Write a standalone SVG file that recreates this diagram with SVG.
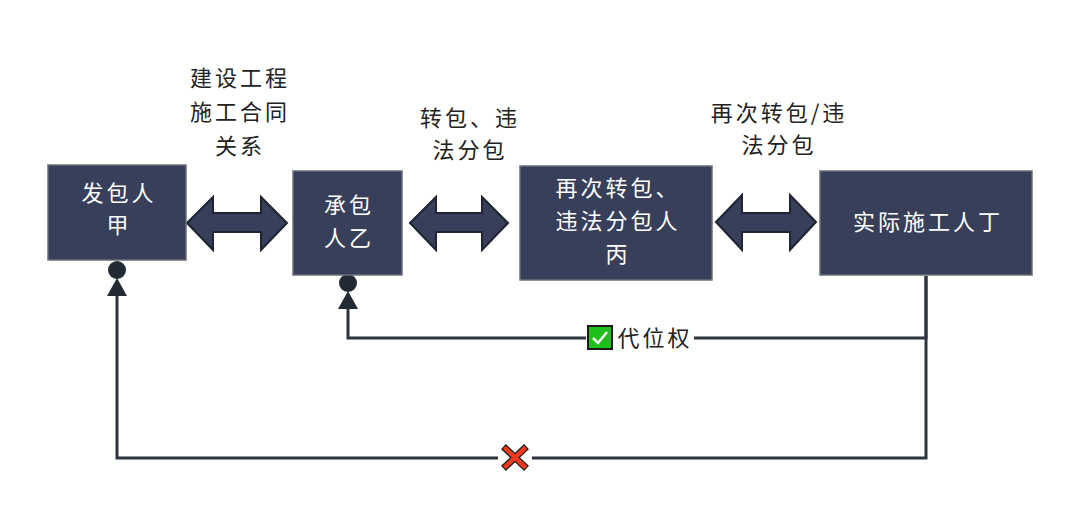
<svg xmlns="http://www.w3.org/2000/svg" width="1080" height="523" viewBox="0 0 1080 523">
<style>
.box{fill:#373f5a;stroke:#6b6f78;stroke-width:1.5}
.wt{fill:#ffffff;font-family:"Noto Sans CJK SC",sans-serif;font-size:22px;letter-spacing:3px;text-anchor:middle}
.bt{fill:#222222;font-family:"Noto Sans CJK SC",sans-serif;font-size:22px;letter-spacing:3px;text-anchor:middle}
.dbl{fill:#373f5a;stroke:#1f2430;stroke-width:2;stroke-linejoin:miter}
.ln{fill:none;stroke:#2c3440;stroke-width:3}
.end{fill:#222a33}
</style>
<rect width="1080" height="523" fill="#ffffff"/>
<g id="connectors">
<path class="dbl" d="M187,223 L213,197 L213,213 L261,213 L261,197 L287,223 L261,250 L261,232 L213,232 L213,250 Z"/>
<path class="dbl" d="M410,223 L436,197 L436,213 L482,213 L482,197 L508,223 L482,250 L482,232 L436,232 L436,250 Z"/>
<path class="dbl" d="M716,222 L742,195 L742,213 L790,213 L790,195 L816,222 L790,250 L790,232 L742,232 L742,250 Z"/>
<path class="ln" d="M926,276 L926,338 L348,338 L348,300"/>
<path class="ln" d="M926,276 L926,458 L117,458 L117,290"/>
<circle class="end" cx="117" cy="270" r="9"/>
<polygon class="end" points="117,278 107,296 127,296"/>
<circle class="end" cx="348" cy="283" r="9"/>
<polygon class="end" points="348,291 338,309 358,309"/>
<rect x="586" y="324" width="108" height="28" fill="#ffffff"/>
<rect x="588" y="326" width="24" height="23" fill="#1fbf1a" stroke="#1a1a1a" stroke-width="2"/>
<path d="M593,338 L598,343 L607,332" fill="none" stroke="#ffffff" stroke-width="2.5"/>
<text class="bt" x="655" y="346">代位权</text>
<rect x="498" y="446" width="34" height="24" fill="#ffffff"/>
<path d="M506,449 L524,466 M524,449 L506,466" stroke="#1a1a1a" stroke-width="7" stroke-linecap="square"/>
<path d="M506,449 L524,466 M524,449 L506,466" stroke="#ee3b1e" stroke-width="4.5" stroke-linecap="square"/>
</g>
<g id="n1">
<rect class="box" x="48" y="165" width="138" height="95"/>
<text class="wt" x="119" y="201">发包人</text>
<text class="wt" x="119" y="233">甲</text>
</g>
<g id="n2">
<rect class="box" x="293" y="171" width="109" height="104"/>
<text class="wt" x="349" y="213">承包</text>
<text class="wt" x="349" y="246">人乙</text>
</g>
<g id="n3">
<rect class="box" x="520" y="166" width="192" height="114"/>
<text class="wt" x="618" y="196">再次转包、</text>
<text class="wt" x="618" y="229">违法分包人</text>
<text class="wt" x="618" y="262">丙</text>
</g>
<g id="n4">
<rect class="box" x="820" y="171" width="212" height="104"/>
<text class="wt" x="928" y="230">实际施工人丁</text>
</g>
<g id="labels">
<text class="bt" x="240" y="86">建设工程</text>
<text class="bt" x="240" y="120">施工合同</text>
<text class="bt" x="240" y="154">关系</text>
<text class="bt" x="470" y="126">转包、违</text>
<text class="bt" x="470" y="158">法分包</text>
<text class="bt" x="779" y="121">再次转包/违</text>
<text class="bt" x="779" y="153">法分包</text>
</g>
</svg>
